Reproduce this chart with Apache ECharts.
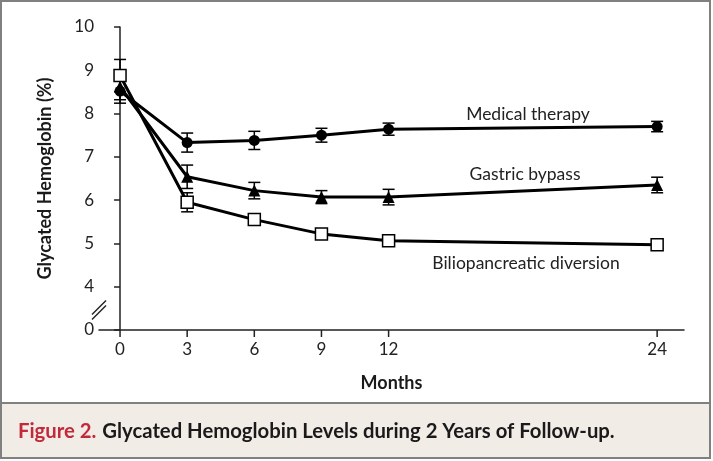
<!DOCTYPE html>
<html><head><meta charset="utf-8">
<script src="https://cdn.jsdelivr.net/npm/echarts@6/dist/echarts.min.js"></script>
<style>html,body{margin:0;padding:0;background:#fff}#c{width:713px;height:461px}</style>
</head><body><div id="c"></div>
<script>
const months = [0, 3, 6, 9, 12, 24];
const medical = [8.52, 7.33, 7.38, 7.50, 7.64, 7.70];
const medicalErr = [0.28, 0.22, 0.21, 0.16, 0.14, 0.12];
const gastric = [8.62, 6.54, 6.22, 6.07, 6.07, 6.35];
const gastricErr = [0.30, 0.27, 0.19, 0.15, 0.18, 0.18];
const bilio = [8.88, 5.95, 5.55, 5.22, 5.06, 4.97];
const bilioErr = [0.37, 0.22, 0.08, 0.06, 0.06, 0.08];
const xTicks = [0, 3, 6, 9, 12, 24];
const yTicks = [3, 4, 5, 6, 7, 8, 9, 10];
const yTickLabels = ['0', '4', '5', '6', '7', '8', '9', '10'];
const seriesNames = ['Medical therapy', 'Gastric bypass', 'Biliopancreatic diversion'];
const caption = ['Figure 2.', 'Glycated Hemoglobin Levels during 2 Years of Follow-up.'];

const FONT = 'Lato, "Open Sans", sans-serif';
const chart = echarts.init(document.getElementById('c'), null, {renderer: 'canvas'});

function pts(v) { return months.map((m, i) => [m, v[i]]); }
function errPts(v, e) { return months.map((m, i) => [m, v[i], e[i]]); }

function errRender(params, api) {
  const x = api.value(0), y = api.value(1), e = api.value(2);
  const top = api.coord([x, y + e]);
  const bot = api.coord([x, y - e]);
  const w = 6;
  const st = {stroke: '#000', lineWidth: 1.5};
  return {
    type: 'group',
    children: [
      {type: 'line', shape: {x1: top[0], y1: top[1], x2: bot[0], y2: bot[1]}, style: st},
      {type: 'line', shape: {x1: top[0] - w, y1: top[1], x2: top[0] + w, y2: top[1]}, style: st},
      {type: 'line', shape: {x1: bot[0] - w, y1: bot[1], x2: bot[0] + w, y2: bot[1]}, style: st}
    ]
  };
}

const option = {
  animation: false,
  grid: {left: 99, right: 29, top: 27, bottom: 131, containLabel: false},
  xAxis: {
    type: 'value', min: -0.94, max: 25.2,
    name: 'Months', nameLocation: 'middle', nameGap: 44,
    nameTextStyle: {fontFamily: FONT, fontWeight: 'bold', fontSize: 18, color: '#1a1a1a'},
    axisLine: {lineStyle: {color: '#222', width: 1.5}},
    axisTick: {show: false},
    axisLabel: {show: false},
    splitLine: {show: false}
  },
  yAxis: {
    type: 'value', min: 3, max: 10, interval: 1,
    name: 'Glycated Hemoglobin (%)', nameLocation: 'middle', nameGap: 45,
    nameTextStyle: {fontFamily: FONT, fontWeight: 'bold', fontSize: 18, color: '#1a1a1a'},
    axisLine: {show: true, lineStyle: {color: '#222', width: 1.5}},
    axisTick: {show: true, length: 6, lineStyle: {color: '#222', width: 1.5}},
    axisLabel: {
      fontFamily: FONT, fontSize: 17, color: '#222', margin: 5,
      formatter: v => { const i = yTicks.indexOf(v); return i >= 0 ? yTickLabels[i] : ''; }
    },
    splitLine: {show: false}
  },
  series: [
    {type: 'custom', name: 'errM', renderItem: errRender, data: errPts(medical, medicalErr), z: 1},
    {type: 'custom', name: 'errG', renderItem: errRender, data: errPts(gastric, gastricErr), z: 1},
    {type: 'custom', name: 'errB', renderItem: errRender, data: errPts(bilio, bilioErr), z: 1},
    {type: 'line', name: seriesNames[1], data: pts(gastric), z: 3,
      lineStyle: {color: '#000', width: 3}, symbol: 'triangle', symbolSize: 12,
      itemStyle: {color: '#000'}, showAllSymbol: true},
    {type: 'line', name: seriesNames[0], data: pts(medical), z: 3,
      lineStyle: {color: '#000', width: 3}, symbol: 'circle', symbolSize: 11,
      itemStyle: {color: '#000'}, showAllSymbol: true},
    {type: 'line', name: seriesNames[2], data: pts(bilio), z: 3,
      lineStyle: {color: '#000', width: 3}, symbol: 'rect', symbolSize: 12,
      itemStyle: {color: '#fff', borderColor: '#000', borderWidth: 1.5}, showAllSymbol: true}
  ]
};
chart.setOption(option);

const g = [];
const y0 = chart.convertToPixel({yAxisIndex: 0}, 3);
xTicks.forEach(t => {
  const px = chart.convertToPixel({xAxisIndex: 0}, t);
  g.push({type: 'line', shape: {x1: px, y1: y0, x2: px, y2: y0 + 7}, style: {stroke: '#222', lineWidth: 1.5}, z: 10});
  g.push({type: 'text', x: px, y: y0 + 20, style: {text: String(t), fontFamily: FONT, fontSize: 17, fill: '#222', align: 'center', verticalAlign: 'middle'}, z: 10});
});
const bx = chart.convertToPixel({xAxisIndex: 0}, -0.94);
const by = chart.convertToPixel({yAxisIndex: 0}, 3.46);
[-2.5, 2.5].forEach(d => {
  g.push({type: 'line', shape: {x1: bx - 7, y1: by + 7 + d, x2: bx + 7, y2: by - 7 + d}, style: {stroke: '#222', lineWidth: 1.4}, z: 10});
});
const labelPos = [[528, 114], [525, 174], [526, 263]];
seriesNames.forEach((n, i) => {
  g.push({type: 'text', x: labelPos[i][0], y: labelPos[i][1], style: {text: n, fontFamily: FONT, fontSize: 17.5, fill: '#222', align: 'center', verticalAlign: 'middle'}, z: 10});
});
g.push({type: 'rect', shape: {x: 1, y: 403, width: 709, height: 55}, style: {fill: '#f2ece6', stroke: null}, z: 0});
g.push({type: 'line', shape: {x1: 1, y1: 403, x2: 710, y2: 403}, style: {stroke: '#808080', lineWidth: 2}, z: 11});
g.push({type: 'rect', shape: {x: 1, y: 1, width: 709, height: 457}, style: {fill: null, stroke: '#808080', lineWidth: 2}, z: 11});
g.push({type: 'text', x: 18, y: 431, style: {
  text: '{r|' + caption[0] + '}{b|' + caption[1] + '}', verticalAlign: 'middle', align: 'left',
  rich: {
    r: {fontFamily: FONT, fontSize: 20.3, fontWeight: 'bold', fill: '#c22a3c', padding: [0, 6, 0, 0]},
    b: {fontFamily: FONT, fontSize: 20.3, fontWeight: 'bold', fill: '#1a1a1a'}
  }}, z: 11});
chart.setOption({graphic: g});
</script></body></html>
